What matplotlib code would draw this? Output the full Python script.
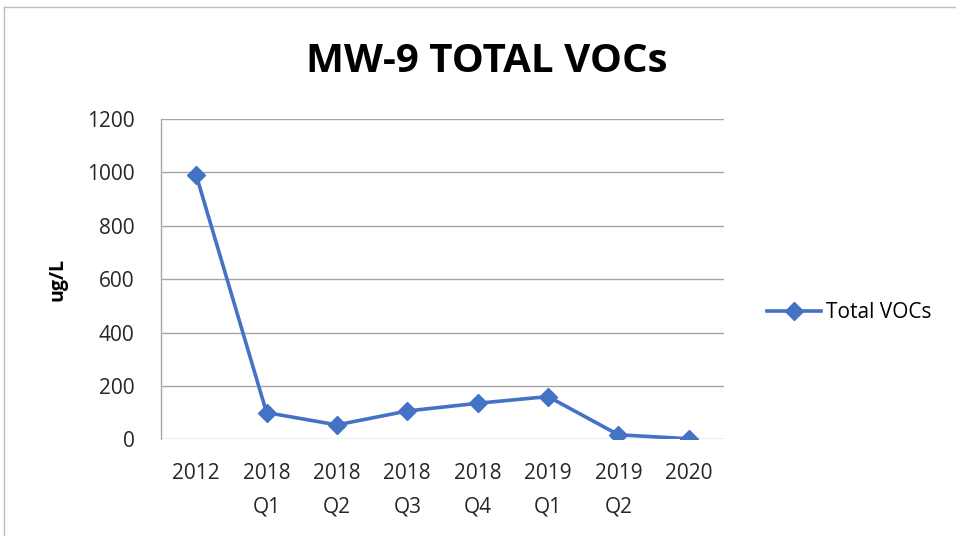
import matplotlib
matplotlib.use("Agg")
import matplotlib.pyplot as plt
from matplotlib.lines import Line2D

categories = ["2012", "2018\nQ1", "2018\nQ2", "2018\nQ3", "2018\nQ4", "2019\nQ1", "2019\nQ2", "2020"]
total_vocs = [990, 100, 54, 106, 135, 160, 17, 2]
y_ticks = [0, 200, 400, 600, 800, 1000, 1200]

plt.rcParams['font.family'] = ['Open Sans', 'DejaVu Sans']

fig = plt.figure(figsize=(9.56, 5.36), dpi=100)
W, H = 956, 536
ax = fig.add_axes([161 / W, 1 - 439.3 / H, (724 - 161) / W, (439.3 - 119) / H])

x = list(range(len(categories)))
line_color = "#4472C4"
ax.plot(x, total_vocs, color=line_color, linewidth=2.6, marker="D",
        markersize=9.5, markeredgecolor=line_color, markerfacecolor=line_color,
        label="Total VOCs", zorder=3)

ax.set_xlim(-0.5, len(categories) - 0.5)
ax.set_ylim(0, 1200)
ax.set_yticks(y_ticks)
ax.set_yticklabels([str(v) for v in y_ticks], fontsize=15, color="#262626")
ax.set_xticks(x)
ax.set_xticklabels(categories, fontsize=15, color="#262626", linespacing=1.8)
ax.tick_params(axis="both", length=0)
ax.tick_params(axis="y", pad=19)
ax.tick_params(axis="x", pad=17)

ax.grid(axis="y", color="#a6a6a6", linewidth=1.0)
ax.set_axisbelow(True)
for s in ["top", "right", "bottom"]:
    ax.spines[s].set_visible(False)
ax.spines["left"].set_color("#a6a6a6")
ax.spines["left"].set_linewidth(1.0)

ax.set_ylabel("ug/L", fontsize=14, fontweight="bold", labelpad=14)

fig.text(487 / W, 1 - 61 / H, "MW-9 TOTAL VOCs", ha="center", va="center",
         fontsize=29, fontweight="bold", color="black")

handle = Line2D([0], [0], color=line_color, linewidth=2.6, marker="D",
                markersize=9.5, markerfacecolor=line_color, markeredgecolor=line_color)
fig.legend([handle], ["Total VOCs"], loc="center left",
           bbox_to_anchor=(748 / W, 1 - 313 / H), frameon=False, fontsize=15,
           handlelength=2.6, handletextpad=0.25)

# outer chart frame
fig.add_artist(Line2D([4 / W, 4 / W], [0, 1 - 7 / H], color="#bfbfbf", linewidth=1.0))
fig.add_artist(Line2D([4 / W, 1], [1 - 7 / H, 1 - 7 / H], color="#bfbfbf", linewidth=1.0))

fig.savefig("out.png", dpi=100, facecolor="white")
